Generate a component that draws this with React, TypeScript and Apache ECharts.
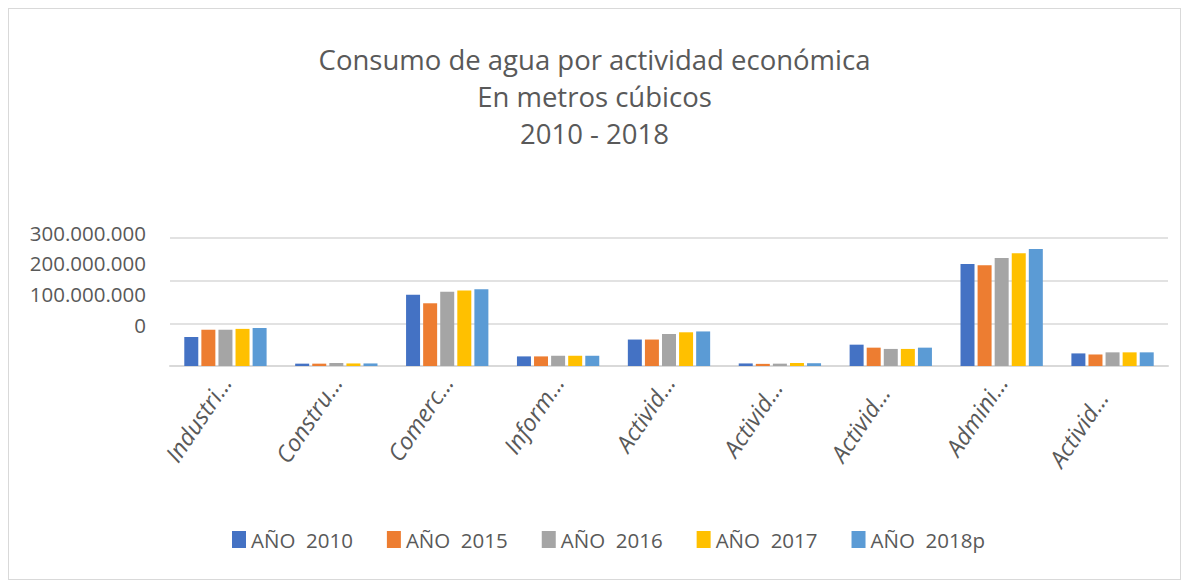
import React, { useEffect, useRef } from "react";
import * as echarts from "echarts";

const categories = ["Industri…", "Constru…", "Comerc…", "Inform…", "Activid…", "Activid… ", "Activid…  ", "Admini…", "Activid…   "];
const seriesNames = ["AÑO  2010", "AÑO  2015", "AÑO  2016", "AÑO  2017", "AÑO  2018p"];
const colors = ["#4472C4", "#ED7D31", "#A5A5A5", "#FFC000", "#5B9BD5"];
const y2010 = [68e6, 5.5e6, 167e6, 22.5e6, 62e6, 6e6, 50e6, 239e6, 29.5e6];
const y2015 = [85e6, 5.5e6, 147e6, 22.5e6, 62e6, 5e6, 43e6, 236e6, 27e6];
const y2016 = [85e6, 7e6, 174e6, 24e6, 75e6, 5.5e6, 40e6, 253e6, 32e6];
const y2017 = [87e6, 6e6, 177e6, 24e6, 79e6, 7e6, 40e6, 264e6, 32e6];
const y2018 = [89e6, 6e6, 180e6, 24e6, 81e6, 6.5e6, 43e6, 274e6, 32e6];
const yTickLabels = ["300.000.000", "200.000.000", "100.000.000", "0"];
const titleLines = ["Consumo de agua por actividad económica", "En metros cúbicos", "2010 - 2018"];

const FONT = "'Open Sans'";
const GREY = "#595959";

export default function App() {
  const ref = useRef<HTMLDivElement>(null);
  useEffect(() => {
    if (!ref.current) return;
    const chart = echarts.init(ref.current, null, { renderer: "svg" });
    const data = [y2010, y2015, y2016, y2017, y2018];
    const labelYs = [226, 256, 287, 318];
    chart.setOption({
      animation: false,
      backgroundColor: "#ffffff",
      title: {
        text: titleLines.join("\n"),
        left: "center",
        top: 27,
        textStyle: { fontFamily: FONT, fontSize: 27.5, fontWeight: "normal", color: GREY, lineHeight: 37 },
      },
      legend: {
        left: 223,
        top: 520,
        padding: 0,
        itemWidth: 14,
        itemHeight: 17,
        itemGap: 34,
        icon: "rect",
        textStyle: { fontFamily: FONT, fontSize: 20.5, color: GREY },
        data: seriesNames,
      },
      grid: { left: 161, right: 12, top: 229, bottom: 213, containLabel: false },
      xAxis: {
        type: "category",
        data: categories,
        axisTick: { show: false },
        axisLine: { lineStyle: { color: "#d9d9d9", width: 2 } },
        axisLabel: {
          rotate: 56,
          margin: 12,
          padding: [54, 0, 0, 0],
          fontFamily: FONT,
          fontStyle: "italic",
          fontSize: 23.5,
          color: GREY,
        },
      },
      yAxis: {
        type: "value",
        min: 0,
        max: 300e6,
        interval: 100e6,
        axisLabel: { show: false },
        axisLine: { show: false },
        axisTick: { show: false },
        splitLine: { lineStyle: { color: "#d9d9d9", width: 1.5 } },
      },
      graphic: yTickLabels.map((t, i) => ({
        type: "text",
        right: 1171 - 137,
        top: labelYs[i] - 13,
        style: { text: t, fontFamily: FONT, fontSize: 20.5, fill: GREY, textAlign: "right" },
      })),
      series: seriesNames.map((n, i) => ({
        name: n,
        type: "bar",
        data: data[i],
        barWidth: 14,
        barGap: "22%",
        itemStyle: { color: colors[i] },
      })),
    });
    return () => chart.dispose();
  }, []);
  return (
    <div style={{ width: 1171, height: 570, border: "1px solid #d9d9d9", background: "#fff" }}>
      <div ref={ref} style={{ width: 1171, height: 570 }} />
    </div>
  );
}
